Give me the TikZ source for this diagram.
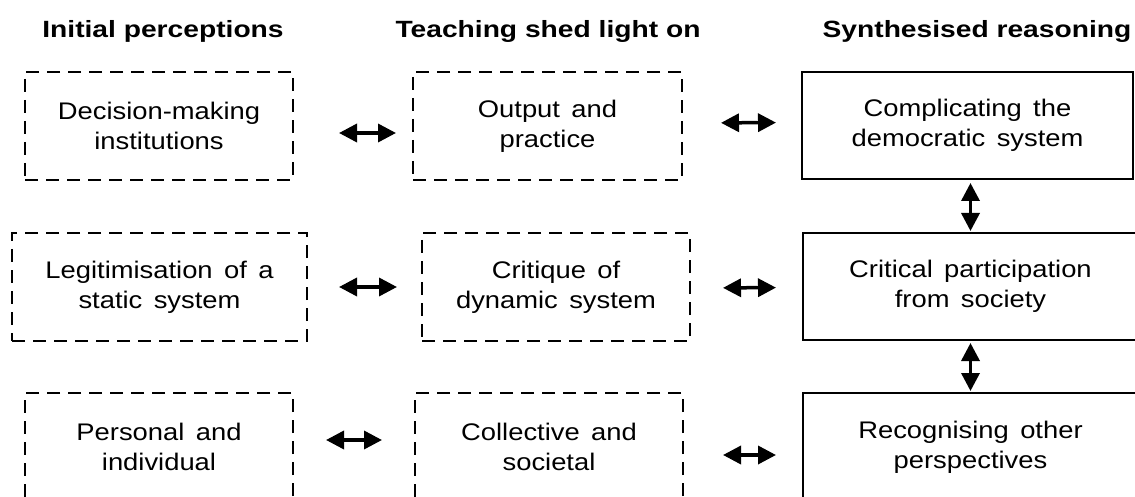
\documentclass[tikz,border=0pt]{standalone}
\usepackage{fontspec}
\setmainfont{Liberation Sans}[FakeStretch=1.14,WordSpace=1.5]
\newfontfamily\headfont{Liberation Sans}[FakeStretch=1.2]
\usetikzlibrary{arrows.meta}
\begin{document}
\begin{tikzpicture}[x=1pt,y=-1pt,
  header/.style={anchor=base,font={\headfont\bfseries\fontsize{23.5}{28}\selectfont}},
  boxbase/.style={inner sep=0pt,align=center,line width=2pt,
    font={\fontsize{24}{30}\selectfont}},
  dbox/.style={boxbase,draw,dash pattern=on 13pt off 8pt},
  sbox/.style={boxbase,draw},
  biarrow/.style={line width=3.5pt,{Triangle[length=18pt,width=18pt]}-{Triangle[length=18pt,width=18pt]}}
]
\useasboundingbox (0,0) rectangle (1135,497);
\clip (0,0) rectangle (1135,497);
\fill[white] (0,0) rectangle (1135,497);

% headers
\node[header] (h1) at (163,38) {Initial perceptions};
\node[header] (h2) at (548,38) {Teaching shed light on};
\node[header] (h3) at (977,38) {Synthesised reasoning};

% row 1
\node[dbox,minimum width=268pt,minimum height=108pt] (a1) at (159,126) {Decision-making\\institutions};
\node[dbox,minimum width=269pt,minimum height=108pt] (a2) at (547.5,126) {Output and\\practice};
\node[sbox,minimum width=331pt,minimum height=107pt] (a3) at (967.5,125.5) {Complicating the\\democratic system};

% row 2
\node[dbox,minimum width=295pt,minimum height=108pt] (b1) at (159.5,287) {Legitimisation of a\\static system};
\node[dbox,minimum width=268pt,minimum height=108pt] (b2) at (556,287) {Critique of\\dynamic system};
\node[sbox,minimum width=335pt,minimum height=107pt] (b3) at (970.5,286.5) {Critical participation\\from society};

% row 3
\node[dbox,minimum width=268pt,minimum height=108pt] (c1) at (159,447) {Personal and\\individual};
\node[dbox,minimum width=268pt,minimum height=108pt] (c2) at (549,447) {Collective and\\societal};
\node[sbox,minimum width=335pt,minimum height=108pt] (c3) at (970.5,447) {Recognising other\\perspectives};

% horizontal arrows
\draw[biarrow,shorten <=45pt,shorten >=16pt] ([yshift=-7pt]a1.east) -- ([yshift=-7pt]a2.west);
\draw[biarrow,shorten <=38pt,shorten >=25pt] ([yshift=3pt]a2.east) -- ([yshift=3pt]a3.west);
\draw[biarrow,shorten <=31pt,shorten >=24pt] (b1.east) -- (b2.west);
\draw[biarrow,shorten <=32pt,shorten >=26pt] ([yshift=-1pt]b2.east) -- ([yshift=-1pt]b3.west);
\draw[biarrow,shorten <=32pt,shorten >=32pt] ([yshift=7pt]c1.east) -- ([yshift=7pt]c2.west);
\draw[biarrow,shorten <=39pt,shorten >=26pt] ([yshift=-8pt]c2.east) -- ([yshift=-8pt]c3.west);

% vertical arrows
\draw[biarrow,shorten <=3pt,shorten >=1pt] (b3.north |- a3.south) -- (b3.north);
\draw[biarrow,shorten <=2pt,shorten >=1pt] (b3.south) -- (c3.north);
\end{tikzpicture}
\end{document}
